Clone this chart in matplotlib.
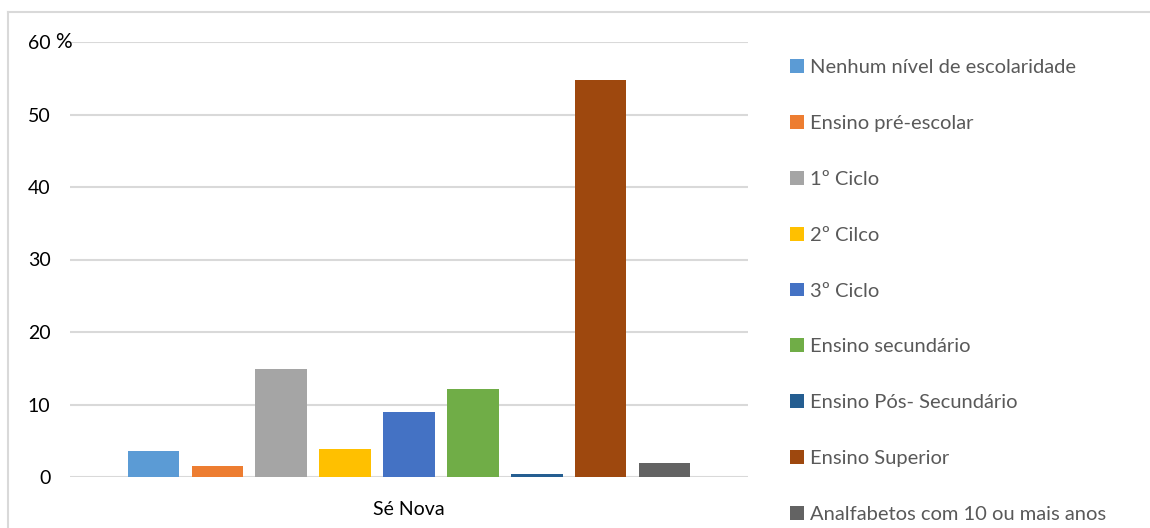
import matplotlib
matplotlib.use('Agg')
import matplotlib.pyplot as plt
from matplotlib.patches import Patch
from matplotlib.lines import Line2D

categories = ['Nenhum nível de escolaridade', 'Ensino pré-escolar', '1º Ciclo',
              '2º Cilco', '3º Ciclo', 'Ensino secundário', 'Ensino Pós- Secundário',
              'Ensino Superior', 'Analfabetos com 10 ou mais anos']
values = [3.6, 1.5, 14.9, 3.9, 9.0, 12.1, 0.4, 54.8, 1.9]
colors = ['#5b9bd5', '#ed7d31', '#a5a5a5', '#ffc000', '#4472c4',
          '#70ad47', '#255e91', '#9e480e', '#636363']
group_label = 'Sé Nova'
yticks = [0, 10, 20, 30, 40, 50, 60]

plt.rcParams['font.family'] = ['Lato', 'DejaVu Sans']

fig = plt.figure(figsize=(11.5, 5.28), dpi=100)
ax = fig.add_axes([70/1150, 1 - 477/528, 678/1150, 435/528])

n = len(values)
for i, (v, c) in enumerate(zip(values, colors)):
    ax.bar(i - (n - 1) / 2, v, width=0.8, color=c, zorder=3)

ax.set_xlim(-5.3, 5.3)
ax.set_ylim(0, 60)
ax.set_yticks(yticks)
ax.yaxis.grid(True, color='#d9d9d9', linewidth=1.5, zorder=0)
ax.set_axisbelow(True)
for s in ax.spines.values():
    s.set_visible(False)
ax.tick_params(axis='y', length=0, pad=14, labelsize=14, labelcolor='#000000')
ax.set_xticks([0])
ax.set_xticklabels([group_label], fontsize=14)
ax.tick_params(axis='x', length=0, pad=17)
ax.text(-0.022, 1.0, '%', transform=ax.transAxes, fontsize=15, va='center', ha='left')

# chart frame (left and top edges)
fig.add_artist(Line2D([8/1150, 8/1150], [0, 1 - 12/528], color='#d9d9d9', linewidth=1.5))
fig.add_artist(Line2D([8/1150, 1], [1 - 12/528, 1 - 12/528], color='#d9d9d9', linewidth=1.5))

handles = [Patch(facecolor=c, edgecolor='none') for c in colors]
leg = fig.legend(handles, categories, loc='upper left', bbox_to_anchor=(782/1150, 1 - 51/528),
                 frameon=False, fontsize=14.5, labelspacing=1.93, handlelength=0.68,
                 handleheight=0.68, handletextpad=0.3, borderaxespad=0)
for t in leg.get_texts():
    t.set_color('#595959')

fig.savefig('out.png', dpi=100)
